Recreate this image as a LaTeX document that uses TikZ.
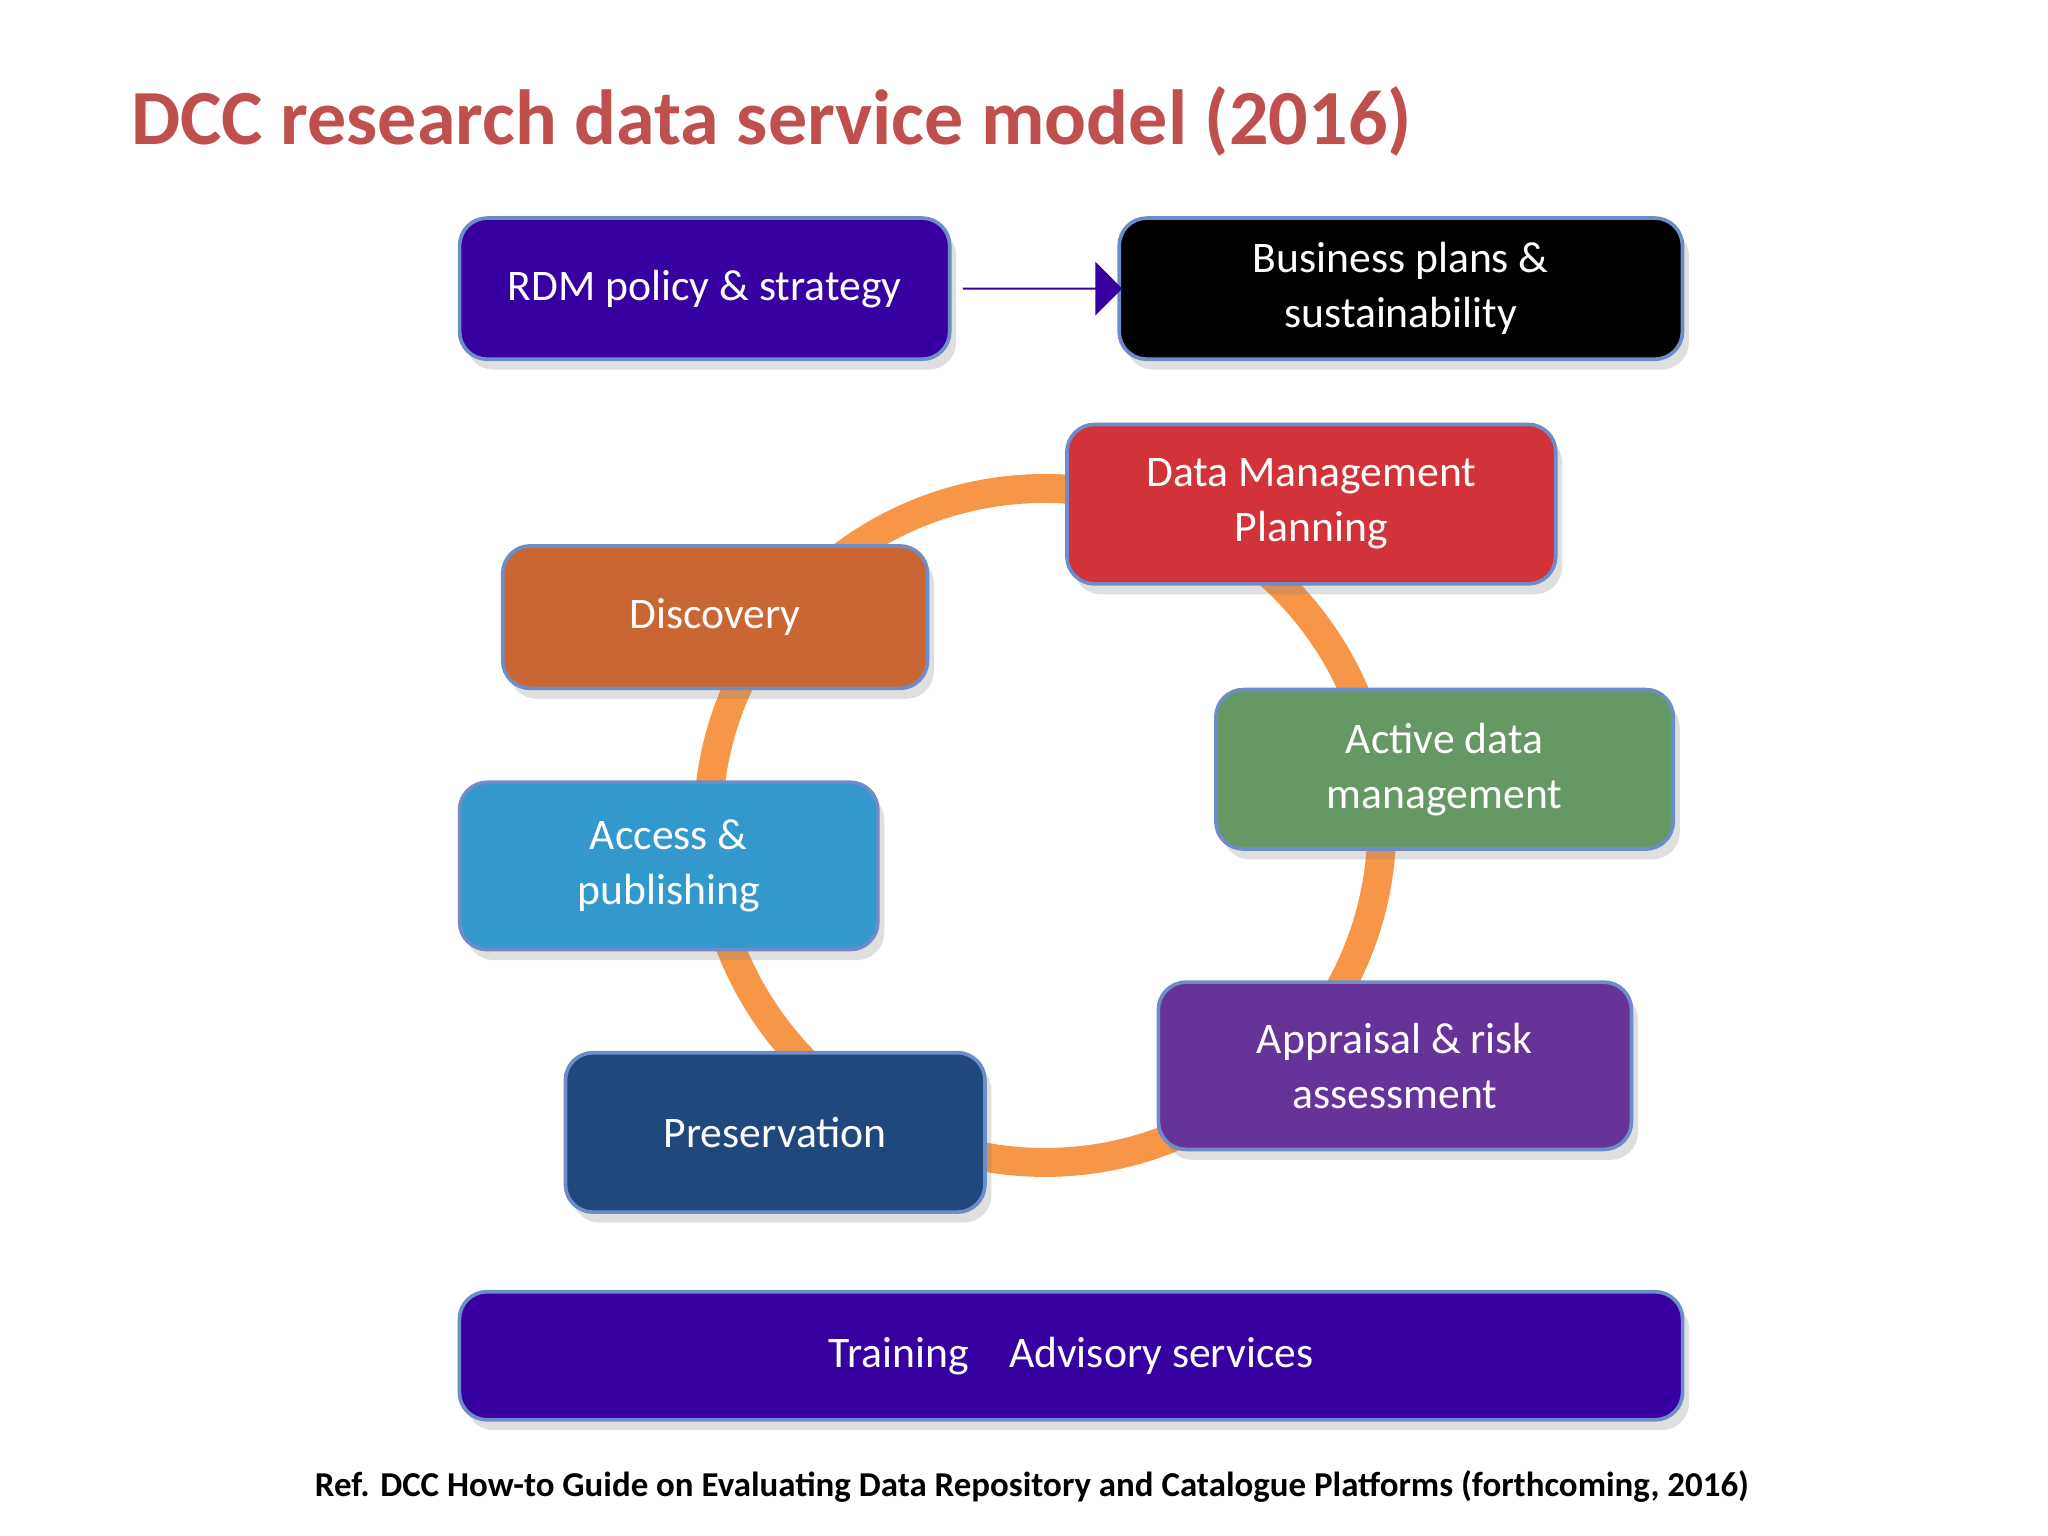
\documentclass[tikz,border=0pt]{standalone}
\usepackage{fontspec}
\setmainfont{Carlito}
\usetikzlibrary{shapes.arrows,shadows}
\definecolor{titlec}{RGB}{192,80,77}
\definecolor{indigo}{RGB}{55,0,160}
\definecolor{ringc}{RGB}{247,150,70}
\definecolor{dmpc}{RGB}{209,51,56}
\definecolor{discc}{RGB}{201,102,51}
\definecolor{activec}{RGB}{101,153,99}
\definecolor{accessc}{RGB}{51,153,204}
\definecolor{apprc}{RGB}{102,51,153}
\definecolor{presc}{RGB}{31,73,125}
\definecolor{edgec}{RGB}{110,140,200}
\tikzset{
  box/.style={draw=edgec,line width=0.8pt,rounded corners=6pt,text=white,font=\fontsize{9.5pt}{12pt}\selectfont,align=center,inner sep=0pt,drop shadow={shadow xshift=0.5mm,shadow yshift=-0.8mm,opacity=0.25}},
}
\begin{document}
\begin{tikzpicture}[x=0.01cm,y=-0.01cm]
\useasboundingbox[fill=white] (0,0) rectangle (1568,1176);
\node[text=titlec,font=\bfseries\fontsize{17pt}{20pt}\selectfont,anchor=west] (title) at (88,93) {DCC research data service model (2016)};
\draw[ringc,line width=6.3pt] (800,632) circle (258);
\newcommand{\mybox}[5]{\node[box,fill=#2,minimum width={(#4)*0.01cm},minimum height={(#5)*0.01cm}] (#1) at #3 {#1txt};}
\node[box,fill=indigo,minimum width=3.75cm,minimum height=1.08cm] (rdm) at (539.5,221) {RDM policy \& strategy};
\node[box,fill=black,minimum width=4.31cm,minimum height=1.08cm] (bus) at (1072.5,221) {Business plans \&\\sustainability};
\node[box,fill=dmpc,minimum width=3.74cm,minimum height=1.22cm] (dmp) at (1004,386) {Data Management\\Planning};
\node[box,fill=discc,minimum width=3.25cm,minimum height=1.09cm] (disc) at (547.5,472.5) {Discovery};
\node[box,fill=activec,minimum width=3.5cm,minimum height=1.22cm] (act) at (1106,589) {Active data\\management};
\node[box,fill=accessc,minimum width=3.2cm,minimum height=1.28cm] (acc) at (512,663) {Access \&\\publishing};
\node[box,fill=apprc,minimum width=3.62cm,minimum height=1.28cm] (appr) at (1068,816) {Appraisal \& risk\\assessment};
\node[box,fill=presc,minimum width=3.21cm,minimum height=1.22cm] (pres) at (593.5,867) {Preservation};
\node[box,fill=indigo,minimum width=9.36cm,minimum height=0.98cm] (train) at (820,1038) {Training\hspace{0.7em} Advisory services};
\node[single arrow,fill=indigo,minimum height=1.22cm,single arrow head extend=0.2cm,minimum width=0.36cm,inner sep=0pt,anchor=west] (arr) at ([xshift=0.08cm]rdm.east) {};
\node[font=\bfseries\fontsize{7.6pt}{9pt}\selectfont] (ref) at (790,1138) {Ref. DCC How-to Guide on Evaluating Data Repository and Catalogue Platforms (forthcoming, 2016)};
\end{tikzpicture}
\end{document}
